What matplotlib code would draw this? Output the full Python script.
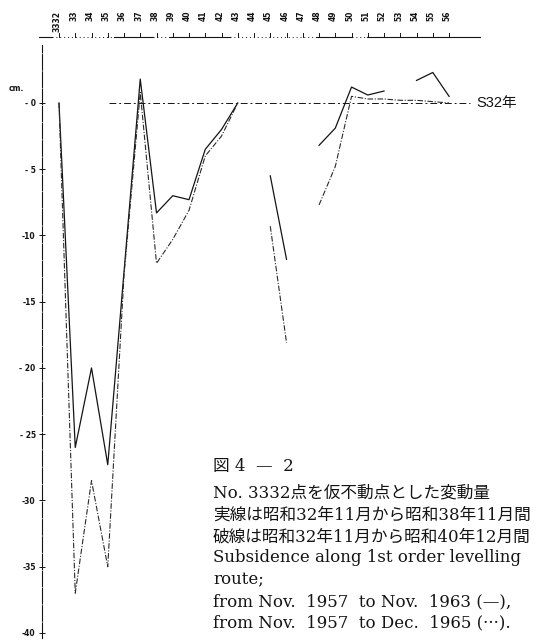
import numpy as np
import matplotlib.pyplot as plt

# station labels along the levelling route (index 0 = BM 3332)
stations = ["3332", "33", "34", "35", "36", "37", "38", "39", "40", "41", "42", "43",
            "44", "45", "46", "47", "48", "49", "50", "51", "52", "53", "54", "55", "56"]

# Nov 1957 -> Nov 1963 (solid), cm
solid_idx = [0, 1, 2, 3, 5, 6, 7, 8, 9, 10, 11, 12, 13, 14, 15, 16, 17, 18, 19, 20, 21, 22, 23, 24]
solid_cm = [0, -26, -20, -27.3, 1.8, -8.3, -7.0, -7.3, -3.5, -2.0, 0.0, np.nan,
            -5.5, -11.8, np.nan, -3.2, -1.9, 1.2, 0.6, 0.9, np.nan, 1.7, 2.3, 0.5]

# Nov 1957 -> Dec 1965 (dashed), cm
dashed_idx = list(range(25))
dashed_cm = [0, -37, -28.5, -35, -13, 0.8, -12.1, -10.3, -8.1, -4.0, -2.5, 0.0, np.nan,
             -9.3, -18.1, np.nan, -7.7, -4.8, 0.5, 0.3, 0.3, 0.2, 0.2, 0.1, 0.0]

yticks = [0, -5, -10, -15, -20, -25, -30, -35, -40]
ytick_labels = ["- 0", "- 5", "-10", "-15", "- 20", "- 25", "-30", "-35", "-40"]

caption_lines = [
    "図 4  —  2",
    "No. 3332点を仮不動点とした変動量",
    "実線は昭和32年11月から昭和38年11月間",
    "破線は昭和32年11月から昭和40年12月間",
    "Subsidence along 1st order levelling",
    "route;",
    "from Nov.  1957  to Nov.  1963 (—),",
    "from Nov.  1957  to Dec.  1965 (···).",
]

ink = "#141414"

fig = plt.figure(figsize=(5.36, 6.4), dpi=100)
ax = fig.add_axes([0, 0, 1, 1])
ax.set_xlim(-3.63, 29.35)
ax.set_ylim(-40.53, 7.77)
ax.patch.set_alpha(0)

for s in ["top", "right", "bottom"]:
    ax.spines[s].set_visible(False)
ax.spines["left"].set_position(("data", -1.05))
ax.spines["left"].set_bounds(-40.4, 4.4)
ax.spines["left"].set_linewidth(0.8)
ax.spines["left"].set_color(ink)
ax.spines["left"].set_linestyle((0, (14, 1.5)))
ax.set_xticks([])
ax.set_yticks(yticks)
ax.set_yticklabels(ytick_labels, fontsize=5.5, fontweight="bold", color=ink)
ax.tick_params(axis="y", direction="inout", length=5, width=0.7, pad=2, colors=ink)

# zero reference (S32)
ax.plot([3.1, 25.3], [0, 0], color=ink, lw=0.7, dashes=(7, 3, 2, 3))
ax.text(25.7, 0, "S32年", fontsize=10.5, va="center", ha="left",
        family=["Liberation Sans", "Noto Sans CJK JP"], color=ink)
ax.text(-3.1, 1.1, "cm.", fontsize=5.5, fontweight="bold", color=ink, va="center")

# levelling lines
ax.plot(solid_idx, solid_cm, color=ink, lw=0.9)
ax.plot(dashed_idx, dashed_cm, color="#2a2a2a", lw=0.8, dashes=(5, 1.5, 1, 1.5))

# route strip along the top
route_y = 4.98
solid_spans = [(-1.2, -0.4), (3.4, 5.8), (6.8, 10.5), (15.8, 18.0), (18.95, 25.9)]
dotted_spans = [(-0.4, 3.4), (5.8, 6.8), (10.5, 15.8), (18.0, 18.95)]
for a, b in solid_spans:
    ax.plot([a, b], [route_y, route_y], color=ink, lw=0.8)
for a, b in dotted_spans:
    ax.plot([a, b], [route_y, route_y], color=ink, lw=0.7, dashes=(1, 3))
for i in range(len(stations)):
    ax.plot([i, i], [route_y, route_y + 0.3], color=ink, lw=0.7)
for i, s in enumerate(stations):
    ax.text(i - 0.1, 6.95, s, rotation=90, ha="center", va="top",
            fontsize=5.5, fontweight="bold", color=ink)

# caption
cap_y = [466, 493, 515, 537, 558, 580, 602, 623]
for txt, yp in zip(caption_lines, cap_y):
    fig.text(213 / 536, 1 - yp / 640, txt, fontsize=12, va="center", ha="left",
             family=["DejaVu Serif", "Noto Sans CJK JP"], color=ink)

fig.savefig("out.png", dpi=100)
